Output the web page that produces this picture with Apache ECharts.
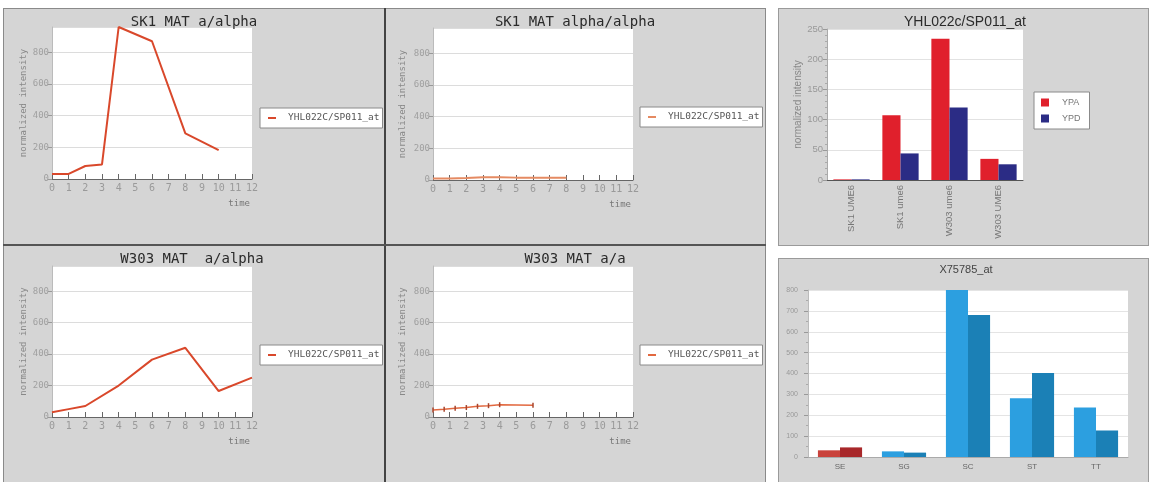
<!DOCTYPE html>
<html>
<head>
<meta charset="utf-8">
<script src="https://cdn.jsdelivr.net/npm/echarts@6/dist/echarts.min.js"></script>
<style>
  body { margin: 0; background: #fff; }
  .box { position: absolute; background: #d5d5d5; box-sizing: border-box; }
  #chart { position: absolute; left: 0; top: 0; width: 1150px; height: 482px; }
</style>
</head>
<body>
<!-- grey panel backgrounds -->
<div class="box" style="left:3px;top:8px;width:763px;height:480px;border:1px solid #8a8a8a"></div>
<div class="box" style="left:384px;top:8px;width:2px;height:474px;background:#444"></div>
<div class="box" style="left:3px;top:244px;width:763px;height:2px;background:#555"></div>
<div class="box" style="left:778px;top:8px;width:371px;height:238px;border:1px solid #9a9a9a"></div>
<div class="box" style="left:778px;top:258px;width:371px;height:228px;border:1px solid #9a9a9a"></div>
<div id="chart"></div>
<script>
// time course data (time, normalized intensity)
const sk1AAlphaTime = [0, 1, 2, 3, 4, 6, 8, 10];
const sk1AAlphaVal = [32, 32, 82, 92, 960, 870, 288, 182];
const sk1AlphaAlphaTime = [0, 1, 2, 3, 4, 5, 6, 7, 8];
const sk1AlphaAlphaVal = [10, 10, 12, 18, 18, 15, 15, 15, 15];
const w303AAlphaTime = [0, 1, 2, 4, 6, 8, 10, 12];
const w303AAlphaVal = [30, 50, 70, 200, 365, 440, 165, 250];
const w303AATime = [0, 0.67, 1.33, 2, 2.67, 3.33, 4, 6];
const w303AAVal = [45, 50, 55, 60, 68, 72, 78, 74];
const probeName = 'YHL022C/SP011_at';

// bar charts
const strainCats = ['SK1 UME6', 'SK1 ume6', 'W303 ume6', 'W303 UME6'];
const ypaVals = [1, 107, 234, 35];
const ypdVals = [1, 44, 120, 26];
const genoCats = ['SE', 'SG', 'SC', 'ST', 'TT'];
const x757A = [32, 27, 800, 282, 237];
const x757B = [46, 21, 680, 402, 127];

const mono = 'DejaVu Sans Mono';
const sans = 'Liberation Sans';

const linePanels = [
  { title: 'SK1 MAT a/alpha', t: sk1AAlphaTime, v: sk1AAlphaVal, left: 52, top: 27, h: 152, tx: 194, ty: 15, lx: 260, ly: 108, gap: 24, color: '#d9482b', w: 2 },
  { title: 'SK1 MAT alpha/alpha', t: sk1AlphaAlphaTime, v: sk1AlphaAlphaVal, left: 433, top: 28, h: 152, tx: 575, ty: 15, lx: 640, ly: 107, gap: 26, color: '#e58a62', w: 2 },
  { title: 'W303 MAT  a/alpha', t: w303AAlphaTime, v: w303AAlphaVal, left: 52, top: 266, h: 151, tx: 192, ty: 252, lx: 260, ly: 345, gap: 24, color: '#d9482b', w: 2 },
  { title: 'W303 MAT a/a', t: w303AATime, v: w303AAVal, left: 433, top: 266, h: 151, tx: 575, ty: 252, lx: 640, ly: 345, gap: 26, color: '#e2683f', w: 1.5, marks: true }
];

const titles = [], grids = [], xAxes = [], yAxes = [], series = [], legends = [];

linePanels.forEach((p, i) => {
  titles.push({
    text: p.title, left: p.tx, top: p.ty, textAlign: 'center', padding: 0,
    textStyle: { fontFamily: mono, fontSize: 14, fontWeight: 'normal', color: '#2a2a2a' }
  });
  grids.push({ left: p.left, top: p.top, width: 200, height: p.h, show: true, backgroundColor: '#fff', borderWidth: 0 });
  xAxes.push({
    type: 'value', gridIndex: i, min: 0, max: 12, interval: 1,
    name: 'time', nameLocation: 'end', nameGap: -2,
    nameTextStyle: { fontFamily: mono, fontSize: 9, color: '#777', align: 'right', verticalAlign: 'top', padding: [20, 0, 0, 0] },
    axisLine: { lineStyle: { color: '#666' } },
    axisTick: { inside: true, length: 5, lineStyle: { color: '#666' } },
    axisLabel: { fontFamily: mono, fontSize: 10, color: '#9a9a9a', margin: 4 },
    splitLine: { show: false }
  });
  yAxes.push({
    type: 'value', gridIndex: i, min: 0, max: 960, interval: 200,
    name: 'normalized intensity', nameLocation: 'middle', nameGap: p.gap,
    nameTextStyle: { fontFamily: mono, fontSize: 9, color: '#888' },
    axisLine: { show: true, lineStyle: { color: '#bbb' } },
    axisTick: { show: true, length: 4, lineStyle: { color: '#999' } },
    axisLabel: { fontFamily: mono, fontSize: 9, color: '#a0a0a0', margin: 3, showMaxLabel: false },
    splitLine: { lineStyle: { color: '#dcdcdc' } }
  });
  series.push({
    name: probeName, type: 'line', xAxisIndex: i, yAxisIndex: i,
    data: p.t.map((t, k) => [t, p.v[k]]),
    symbol: p.marks ? 'rect' : 'none', symbolSize: [1.5, 5],
    itemStyle: { color: p.marks ? '#a8442c' : p.color },
    lineStyle: { color: p.color, width: p.w }
  });
  legends.push({
    data: [{ name: probeName, itemStyle: { color: p.color } }], left: p.lx, top: p.ly, orient: 'vertical',
    backgroundColor: '#fff', borderColor: '#8a8a8a', borderWidth: 1, borderRadius: 0,
    padding: [5, 3, 5, 8], icon: 'rect', itemWidth: 8, itemHeight: 2,
    textStyle: { fontFamily: mono, fontSize: 9.5, color: '#555', padding: [0, 0, 0, 7] }
  });
});

// top-right grouped bars
titles.push({
  text: 'YHL022c/SP011_at', left: 965, top: 15, textAlign: 'center', padding: 0,
  textStyle: { fontFamily: sans, fontSize: 14, fontWeight: 'normal', color: '#2a2a2a' }
});
grids.push({ left: 827, top: 29, width: 196, height: 151, show: true, backgroundColor: '#fff', borderWidth: 0 });
xAxes.push({
  type: 'category', gridIndex: 4, data: strainCats,
  axisLine: { lineStyle: { color: '#555' } },
  axisTick: { length: 4, lineStyle: { color: '#555' } },
  axisLabel: { rotate: 90, fontFamily: sans, fontSize: 9.5, color: '#777', margin: 5 }
});
yAxes.push({
  type: 'value', gridIndex: 4, min: 0, max: 250, interval: 50,
  name: 'normalized intensity', nameLocation: 'middle', nameGap: 24,
  nameTextStyle: { fontFamily: sans, fontSize: 10, color: '#888' },
  axisLine: { show: true, lineStyle: { color: '#aaa' } },
  axisTick: { show: true, length: 4, lineStyle: { color: '#999' } },
  minorTick: { show: true, splitNumber: 5, length: 2, lineStyle: { color: '#aaa' } },
  axisLabel: { fontFamily: sans, fontSize: 9.5, color: '#999', margin: 4 },
  splitLine: { lineStyle: { color: '#e2e2e2' } }
});
series.push(
  { name: 'YPA', type: 'bar', xAxisIndex: 4, yAxisIndex: 4, data: ypaVals, barGap: 0, barCategoryGap: '26%', itemStyle: { color: '#e0202c' } },
  { name: 'YPD', type: 'bar', xAxisIndex: 4, yAxisIndex: 4, data: ypdVals, barGap: 0, barCategoryGap: '26%', itemStyle: { color: '#2b2c85' } }
);
legends.push({
  data: ['YPA', 'YPD'], left: 1034, top: 92, orient: 'vertical',
  backgroundColor: '#fff', borderColor: '#8a8a8a', borderWidth: 1, borderRadius: 0,
  padding: [6, 9, 6, 7], itemGap: 7, icon: 'rect', itemWidth: 8, itemHeight: 8,
  textStyle: { fontFamily: sans, fontSize: 9, color: '#777', padding: [0, 0, 0, 8] }
});

// bottom-right grouped bars
titles.push({
  text: 'X75785_at', left: 966, top: 264, textAlign: 'center', padding: 0,
  textStyle: { fontFamily: sans, fontSize: 11, fontWeight: 'normal', color: '#444' }
});
grids.push({ left: 808, top: 290, width: 320, height: 167, show: true, backgroundColor: '#fff', borderWidth: 0 });
xAxes.push({
  type: 'category', gridIndex: 5, data: genoCats,
  axisLine: { lineStyle: { color: '#aaa' } },
  axisTick: { length: 3, lineStyle: { color: '#aaa' } },
  axisLabel: { fontFamily: sans, fontSize: 8, color: '#666', margin: 6 }
});
yAxes.push({
  type: 'value', gridIndex: 5, min: 0, max: 800, interval: 100,
  axisLine: { show: true, lineStyle: { color: '#bbb' } },
  axisTick: { show: true, length: 4, lineStyle: { color: '#999' } },
  minorTick: { show: true, splitNumber: 2, length: 2, lineStyle: { color: '#aaa' } },
  axisLabel: { fontFamily: sans, fontSize: 7, color: '#999', margin: 10 },
  splitLine: { lineStyle: { color: '#e4e4e4' } }
});
const firstRed = (light, dark) => (p) => (p.dataIndex === 0 ? light : dark);
series.push(
  { name: 'A', type: 'bar', xAxisIndex: 5, yAxisIndex: 5, data: x757A, barGap: 0, barCategoryGap: '31%', itemStyle: { color: firstRed('#c9423b', '#2c9fe0') } },
  { name: 'B', type: 'bar', xAxisIndex: 5, yAxisIndex: 5, data: x757B, barGap: 0, barCategoryGap: '31%', itemStyle: { color: firstRed('#a8282a', '#1b80b6') } }
);

const chart = echarts.init(document.getElementById('chart'), null, { renderer: 'canvas' });
chart.setOption({
  animation: false,
  title: titles,
  grid: grids,
  xAxis: xAxes,
  yAxis: yAxes,
  legend: legends,
  series: series
});
</script>
</body>
</html>
